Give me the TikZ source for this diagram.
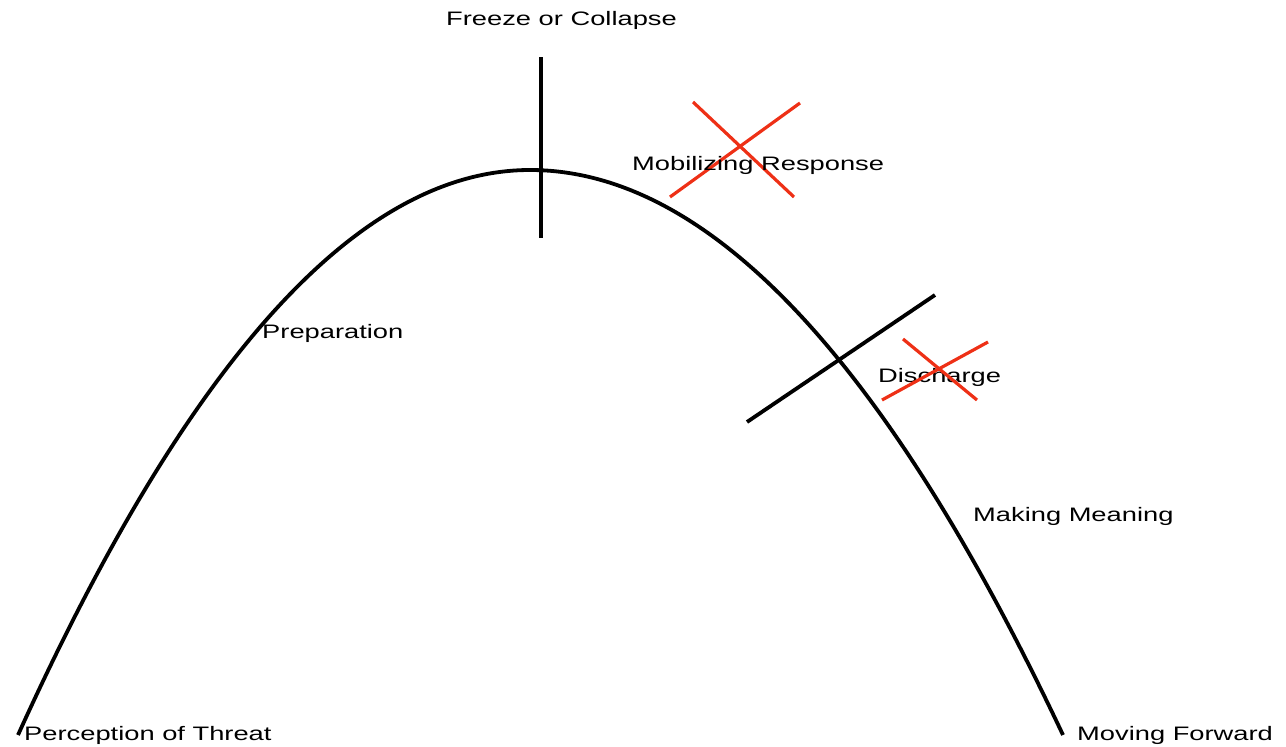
\documentclass[tikz,border=0pt]{standalone}
\usepackage{fontspec}
\setmainfont{Liberation Sans}
\newcommand\widetext[1]{\scalebox{1.4}[1]{#1}}
\begin{document}
\begin{tikzpicture}[x=1pt,y=-1pt,
  lbl/.style={anchor=base west,inner sep=0pt,font=\fontsize{19.5}{21}\selectfont},
  curve/.style={line width=3.8pt,black},
  tick/.style={line width=3.8pt,black,line cap=butt},
  cross/.style={line width=3.2pt,color=crossred}]
\definecolor{crossred}{RGB}{238,48,22}
\useasboundingbox (0,0) rectangle (1286,747);
% curve
\coordinate (start) at (18,735);
\coordinate (apex) at (530,170);
\coordinate (end) at (1063,735);
\draw[curve] (start) .. controls (188.7,358.3) and (359.3,170) .. (apex)
  .. controls (707.7,170) and (885.3,358.3) .. (end);
% black marks
\coordinate (v1) at (541,57);
\coordinate (v2) at (541,238);
\draw[tick] (v1) -- (v2);
\coordinate (d1) at (747,422);
\coordinate (d2) at (935,295);
\draw[tick] (d1) -- (d2);
% red crosses
\coordinate (r1a) at (693,102); \coordinate (r1b) at (794,197);
\coordinate (r1c) at (800,103); \coordinate (r1d) at (670,197);
\draw[cross] (r1a) -- (r1b);
\draw[cross] (r1c) -- (r1d);
\coordinate (r2a) at (903,339); \coordinate (r2b) at (977,400);
\coordinate (r2c) at (988,342); \coordinate (r2d) at (882,400);
% labels
\node[lbl] (freeze) at (446,25) {\widetext{Freeze or Collapse}};
\node[lbl] (mob) at (632,170) {\widetext{Mobilizing Response}};
\node[lbl] (prep) at (262,338) {\widetext{Preparation}};
\node[lbl] (dis) at (878,382) {\widetext{Discharge}};
\node[lbl] (mean) at (973,521) {\widetext{Making Meaning}};
\node[lbl] (threat) at (24,740) {\widetext{Perception of Threat}};
\node[lbl] (fwd) at (1077,740) {\widetext{Moving Forward}};
\draw[cross] (r2a) -- (r2b);
\draw[cross] (r2c) -- (r2d);
\end{tikzpicture}
\end{document}
